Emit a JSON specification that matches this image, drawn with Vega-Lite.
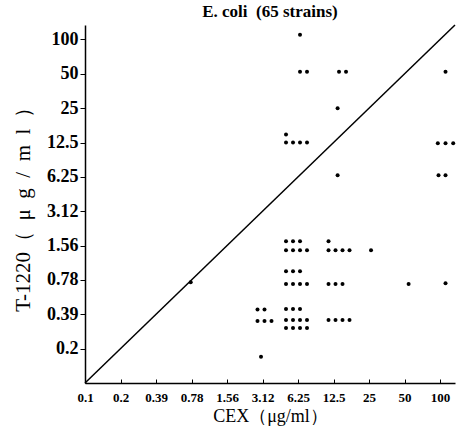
{
  "$schema": "https://vega.github.io/schema/vega-lite/v6.json",
  "autosize": {"type": "none"},
  "padding": {"left": 85, "top": 25, "right": 3, "bottom": 54},
  "width": 370,
  "height": 358,
  "background": "white",
  "title": {"text": "E. coli\u2002(65 strains)", "anchor": "middle", "font": "Liberation Serif", "fontSize": 17, "fontWeight": "bold", "color": "black", "offset": 1},
  "config": {"view": {"stroke": null}},
  "resolve": {"scale": {"x": "independent", "y": "independent"}, "axis": {"x": "independent", "y": "independent"}},
  "layer": [
    {
      "data": {"values": [{"cex": 0.1, "t": 0.1}, {"cex": 134, "t": 134}]},
      "mark": {"type": "line", "color": "black", "strokeWidth": 1.5},
      "encoding": {
        "x": {"field": "cex", "type": "quantitative", "axis": null, "scale": {"type": "log", "base": 2, "domain": [0.1, 134], "nice": false}},
        "y": {"field": "t", "type": "quantitative", "axis": null, "scale": {"type": "log", "base": 2, "domain": [0.1, 134], "nice": false}}
      }
    },
    {
      "data": {"values": [
        {"cex": 6.25, "t": 100, "c": 1, "r": -0.6},
        {"cex": 6.25, "t": 50, "c": 1, "r": -0.25},
        {"cex": 6.25, "t": 50, "c": 2, "r": -0.25},
        {"cex": 12.5, "t": 50, "c": 1.5, "r": -0.25},
        {"cex": 12.5, "t": 50, "c": 2.5, "r": -0.25},
        {"cex": 100, "t": 50, "c": 1.5, "r": -0.25},
        {"cex": 12.5, "t": 25, "c": 1.3, "r": 0},
        {"cex": 6.25, "t": 12.5, "c": -1, "r": -1},
        {"cex": 6.25, "t": 12.5, "c": -1, "r": 0},
        {"cex": 6.25, "t": 12.5, "c": 0, "r": 0},
        {"cex": 6.25, "t": 12.5, "c": 1, "r": 0},
        {"cex": 6.25, "t": 12.5, "c": 2, "r": 0},
        {"cex": 100, "t": 12.5, "c": 0.4, "r": 0.1},
        {"cex": 100, "t": 12.5, "c": 1.5, "r": 0.1},
        {"cex": 100, "t": 12.5, "c": 2.6, "r": 0.1},
        {"cex": 12.5, "t": 6.25, "c": 1.3, "r": -0.2},
        {"cex": 100, "t": 6.25, "c": 0.5, "r": -0.2},
        {"cex": 100, "t": 6.25, "c": 1.5, "r": -0.2},
        {"cex": 6.25, "t": 1.56, "c": -1, "r": -0.55},
        {"cex": 6.25, "t": 1.56, "c": 0, "r": -0.55},
        {"cex": 6.25, "t": 1.56, "c": 1, "r": -0.55},
        {"cex": 6.25, "t": 1.56, "c": -1, "r": 0.6},
        {"cex": 6.25, "t": 1.56, "c": 0, "r": 0.6},
        {"cex": 6.25, "t": 1.56, "c": 1, "r": 0.6},
        {"cex": 6.25, "t": 1.56, "c": 2, "r": 0.6},
        {"cex": 12.5, "t": 1.56, "c": 0, "r": -0.55},
        {"cex": 12.5, "t": 1.56, "c": 0, "r": 0.6},
        {"cex": 12.5, "t": 1.56, "c": 1, "r": 0.6},
        {"cex": 12.5, "t": 1.56, "c": 2, "r": 0.6},
        {"cex": 12.5, "t": 1.56, "c": 3, "r": 0.6},
        {"cex": 25, "t": 1.56, "c": 1, "r": 0.6},
        {"cex": 6.25, "t": 0.78, "c": -1, "r": -1.1},
        {"cex": 6.25, "t": 0.78, "c": 0, "r": -1.1},
        {"cex": 6.25, "t": 0.78, "c": 1, "r": -1.1},
        {"cex": 6.25, "t": 0.78, "c": -1, "r": 0.5},
        {"cex": 6.25, "t": 0.78, "c": 0, "r": 0.5},
        {"cex": 6.25, "t": 0.78, "c": 1, "r": 0.5},
        {"cex": 6.25, "t": 0.78, "c": 2, "r": 0.5},
        {"cex": 12.5, "t": 0.78, "c": 0, "r": 0.5},
        {"cex": 12.5, "t": 0.78, "c": 1, "r": 0.5},
        {"cex": 12.5, "t": 0.78, "c": 2, "r": 0.5},
        {"cex": 50, "t": 0.78, "c": 1.3, "r": 0.5},
        {"cex": 100, "t": 0.78, "c": 1.5, "r": 0.4},
        {"cex": 0.78, "t": 0.78, "c": 0.6, "r": 0.3},
        {"cex": 3.12, "t": 0.39, "c": 0, "r": -0.6},
        {"cex": 3.12, "t": 0.39, "c": 1, "r": -0.6},
        {"cex": 3.12, "t": 0.39, "c": 0, "r": 0.85},
        {"cex": 3.12, "t": 0.39, "c": 1, "r": 0.85},
        {"cex": 3.12, "t": 0.39, "c": 2, "r": 0.85},
        {"cex": 6.25, "t": 0.39, "c": -1, "r": -0.65},
        {"cex": 6.25, "t": 0.39, "c": 0, "r": -0.65},
        {"cex": 6.25, "t": 0.39, "c": 1, "r": -0.65},
        {"cex": 6.25, "t": 0.39, "c": -1, "r": 0.7},
        {"cex": 6.25, "t": 0.39, "c": 0, "r": 0.7},
        {"cex": 6.25, "t": 0.39, "c": 1, "r": 0.7},
        {"cex": 6.25, "t": 0.39, "c": 2, "r": 0.7},
        {"cex": 6.25, "t": 0.39, "c": -1, "r": 1.7},
        {"cex": 6.25, "t": 0.39, "c": 0, "r": 1.7},
        {"cex": 6.25, "t": 0.39, "c": 1, "r": 1.7},
        {"cex": 6.25, "t": 0.39, "c": 2, "r": 1.7},
        {"cex": 12.5, "t": 0.39, "c": 0, "r": 0.7},
        {"cex": 12.5, "t": 0.39, "c": 1, "r": 0.7},
        {"cex": 12.5, "t": 0.39, "c": 2, "r": 0.7},
        {"cex": 12.5, "t": 0.39, "c": 3, "r": 0.7},
        {"cex": 3.12, "t": 0.2, "c": 0.5, "r": 1}
      ]},
      "mark": {"type": "circle", "color": "black", "opacity": 1, "size": 16},
      "encoding": {
        "x": {
          "field": "cex", "type": "ordinal",
          "scale": {"type": "point", "domain": [0.1, 0.2, 0.39, 0.78, 1.56, 3.12, 6.25, 12.5, 25, 50, 100], "padding": 0.211, "align": 0},
          "axis": {
            "title": "CEX（μg/ml）",
            "labelAngle": 0,
            "grid": false,
            "domainColor": "black", "domainWidth": 1.5,
            "tickColor": "black", "tickSize": -4,
            "labelFont": "Liberation Serif", "labelFontSize": 13, "labelFontWeight": "bold", "labelColor": "black",
            "labelPadding": 12, "labelOverlap": false,
            "titleFont": "Liberation Serif", "titleFontSize": 18, "titleFontWeight": "normal", "titleColor": "black", "titlePadding": 3
          }
        },
        "y": {
          "field": "t", "type": "ordinal",
          "scale": {"type": "point", "domain": [100, 50, 25, 12.5, 6.25, 3.12, 1.56, 0.78, 0.39, 0.2, 0.1], "padding": 0.21, "align": 1},
          "axis": {
            "title": "T-1220（\u2002μ\u2002g\u2002/\u2002m\u2002l\u2002）",
            "values": [100, 50, 25, 12.5, 6.25, 3.12, 1.56, 0.78, 0.39, 0.2],
            "grid": false,
            "domainColor": "black", "domainWidth": 1.5,
            "tickColor": "black", "tickSize": 5,
            "labelFont": "Liberation Serif", "labelFontSize": 18, "labelFontWeight": "bold", "labelColor": "black",
            "labelPadding": 2, "labelOverlap": false,
            "titleFont": "Liberation Serif", "titleFontSize": 21, "titleFontWeight": "normal", "titleColor": "black", "titlePadding": 13
          }
        },
        "xOffset": {"field": "c", "type": "quantitative", "scale": {"type": "linear", "domain": [0, 1], "range": [-5, 2]}},
        "yOffset": {"field": "r", "type": "quantitative", "scale": {"type": "linear", "domain": [0, 1], "range": [0, 8]}}
      }
    }
  ]
}
